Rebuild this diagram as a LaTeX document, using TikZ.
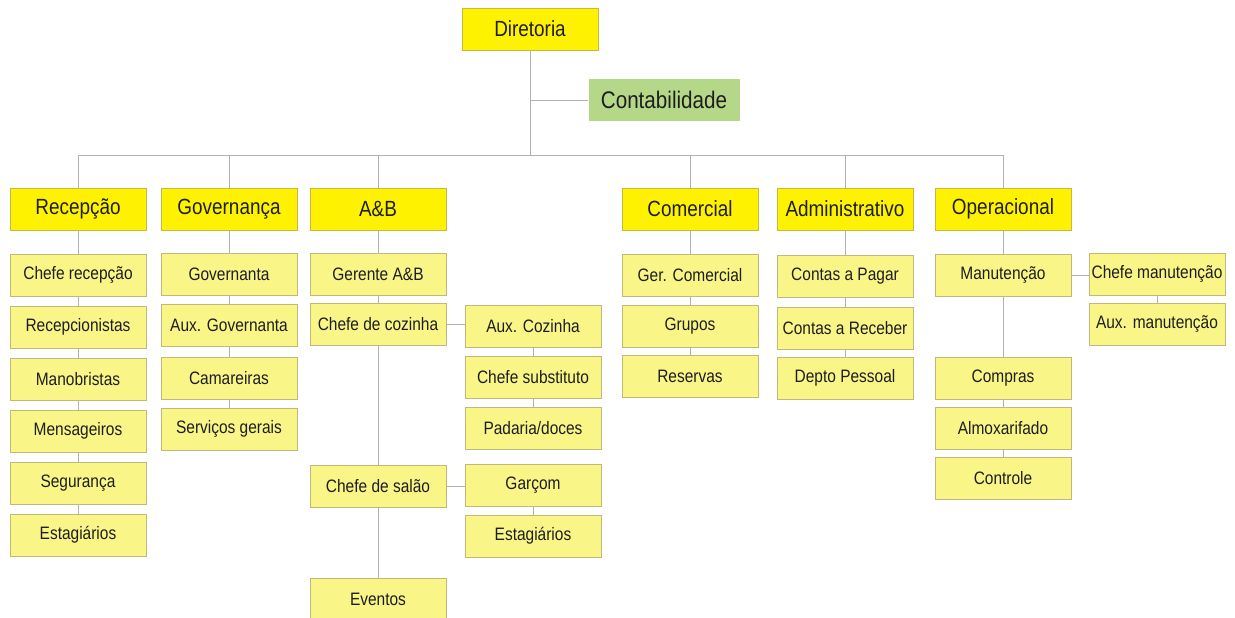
\documentclass[tikz,border=0pt]{standalone}
\usepackage{fontspec}
\setmainfont{Liberation Sans}[FakeStretch=0.86]
\definecolor{orgyellow}{RGB}{255,242,0}
\definecolor{orgborder}{RGB}{200,182,70}
\definecolor{itemyellow}{RGB}{250,245,135}
\definecolor{itemborder}{RGB}{192,186,120}
\definecolor{orggreen}{RGB}{181,216,136}
\definecolor{orgline}{RGB}{178,178,178}
\definecolor{orgtext}{RGB}{30,30,30}
\usetikzlibrary{positioning}

\begin{document}
\begin{tikzpicture}[
  x=1pt, y=-1pt,
  head/.style={draw=orgborder, fill=orgyellow, minimum width=136pt, minimum height=42pt, inner sep=0pt, font=\fontsize{22}{26}\selectfont, text=orgtext},
  item/.style={draw=itemborder, fill=itemyellow, minimum width=136pt, minimum height=42pt, inner sep=0pt, font=\fontsize{18}{22}\selectfont, text=orgtext},
  accbox/.style={fill=orggreen, minimum width=151pt, minimum height=42pt, inner sep=0pt, font=\fontsize{24}{28}\selectfont, text=orgtext},
  link/.style={draw=orgline, line width=0.9pt}
]
  \useasboundingbox (0,0) rectangle (1235,618);

  %% Top
  \node[head]   (dir)  at (530,29)  {Diretoria};
  \node[accbox] (cont) at (664,100) {Contabilidade};
  \coordinate (bus) at (530,155);

  %% Departments
  \node[head] (rec) at (78,209)   {Recepção};
  \node[head] (gov) at (229,209)  {Governança};
  \node[head] (ab)  at (378,209)  {A\&B};
  \node[head] (com) at (690,209)  {Comercial};
  \node[head] (adm) at (845,209)  {Administrativo};
  \node[head] (ope) at (1003,209) {Operacional};

  %% Column: Recepcao
  \node[item] (rec1) at (78,275) {Chefe recepção};
  \node[item] (rec2) at (78,327) {Recepcionistas};
  \node[item] (rec3) at (78,379) {Manobristas};
  \node[item] (rec4) at (78,431) {Mensageiros};
  \node[item] (rec5) at (78,483) {Segurança};
  \node[item] (rec6) at (78,535) {Estagiários};

  %% Column: Governanca
  \node[item] (gov1) at (229,274) {Governanta};
  \node[item] (gov2) at (229,325) {Aux. Governanta};
  \node[item] (gov3) at (229,378) {Camareiras};
  \node[item] (gov4) at (229,429) {Serviços gerais};

  %% Column: A&B
  \node[item] (ger) at (378,274) {Gerente A\&B};
  \node[item] (coz) at (378,324) {Chefe de cozinha};
  \node[item] (sal) at (378,486) {Chefe de salão};
  \node[item] (eve) at (378,599) {Eventos};
  \node[item] (aux) at (533,326) {Aux. Cozinha};
  \node[item] (sub) at (533,377) {Chefe substituto};
  \node[item] (pad) at (533,428) {Padaria/doces};
  \node[item] (gar) at (533,485) {Garçom};
  \node[item] (est) at (533,536) {Estagiários};

  %% Column: Comercial
  \node[item] (com1) at (690,275) {Ger. Comercial};
  \node[item] (com2) at (690,326) {Grupos};
  \node[item] (com3) at (690,376) {Reservas};

  %% Column: Administrativo
  \node[item] (adm1) at (845,276) {Contas a Pagar};
  \node[item] (adm2) at (845,328) {Contas a Receber};
  \node[item] (adm3) at (845,378) {Depto Pessoal};

  %% Column: Operacional
  \node[item] (man) at (1003,275) {Manutenção};
  \node[item] (cmp) at (1003,378) {Compras};
  \node[item] (alm) at (1003,428) {Almoxarifado};
  \node[item] (ctl) at (1003,478) {Controle};
  \node[item] (chm) at (1157,274) {Chefe manutenção};
  \node[item] (axm) at (1157,324) {Aux. manutenção};

  %% Links
  \draw[link] (dir.south) -- (bus);
  \draw[link] (dir.south |- cont.west) -- (cont.west);
  \draw[link] (bus -| rec) -- (bus -| ope);
  \draw[link] (bus -| rec) -- (rec.north) (bus -| gov) -- (gov.north) (bus -| ab) -- (ab.north)
              (bus -| com) -- (com.north) (bus -| adm) -- (adm.north) (bus -| ope) -- (ope.north);

  \draw[link] (rec.south) -- (rec1.north) (rec1.south) -- (rec2.north) (rec2.south) -- (rec3.north)
              (rec3.south) -- (rec4.north) (rec4.south) -- (rec5.north) (rec5.south) -- (rec6.north);
  \draw[link] (gov.south) -- (gov1.north) (gov1.south) -- (gov2.north) (gov2.south) -- (gov3.north)
              (gov3.south) -- (gov4.north);
  \draw[link] (ab.south) -- (ger.north) (ger.south) -- (coz.north) (coz.south) -- (sal.north)
              (sal.south) -- (eve.north);
  \draw[link] (coz.east) -- (coz.east -| aux.west) (aux.south) -- (sub.north) (sub.south) -- (pad.north);
  \draw[link] (sal.east) -- (sal.east -| gar.west) (gar.south) -- (est.north);
  \draw[link] (com.south) -- (com1.north) (com1.south) -- (com2.north) (com2.south) -- (com3.north);
  \draw[link] (adm.south) -- (adm1.north) (adm1.south) -- (adm2.north) (adm2.south) -- (adm3.north);
  \draw[link] (ope.south) -- (man.north) (man.south) -- (cmp.north) (cmp.south) -- (alm.north)
              (alm.south) -- (ctl.north);
  \draw[link] (man.east) -- (man.east -| chm.west) (chm.south) -- (axm.north);
\end{tikzpicture}
\end{document}
